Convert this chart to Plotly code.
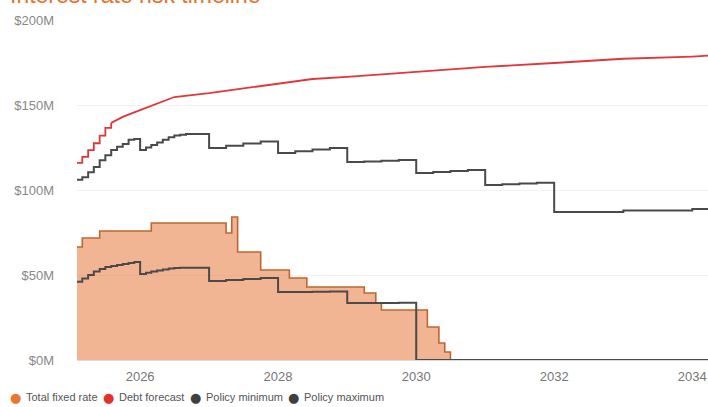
import plotly.graph_objects as go

# ---------------- data (values in $M) ----------------
fixed_dates = ["2025-02-01", "2025-03-01", "2025-06-01", "2026-03-01", "2027-04-01", "2027-05-01",
               "2027-06-01", "2027-10-01", "2028-03-01", "2028-06-01", "2029-04-01", "2029-06-01",
               "2029-07-01", "2030-03-01", "2030-05-01", "2030-06-01", "2030-07-01"]
fixed_vals = [66.5, 71.8, 75.9, 80.6, 74.7, 84.1, 63.5, 52.9, 48.2, 42.9, 39.4, 33.5,
              29.4, 19.4, 10.0, 4.7, 0.0]

debt_step_dates = ["2025-02-01", "2025-03-01", "2025-04-01", "2025-05-01", "2025-06-01",
                   "2025-07-01", "2025-08-01"]
debt_step_vals = [116.0, 119.5, 123.5, 127.5, 132.0, 136.5, 139.5]
debt_dates = ["2025-08-01", "2025-10-01", "2026-01-01", "2026-04-01", "2026-07-01", "2027-01-01",
              "2028-01-01", "2028-07-01", "2029-01-01", "2030-01-01", "2031-01-01", "2032-01-01",
              "2033-01-01", "2034-01-01", "2034-03-25"]
debt_vals = [139.5, 143.0, 147.0, 150.6, 154.7, 157.0, 162.4, 165.3, 166.5, 169.4, 172.4, 174.7,
             177.2, 178.5, 179.0]

policy_dates = ["2025-02-01", "2025-03-01", "2025-04-01", "2025-05-01", "2025-06-01", "2025-07-01",
                "2025-08-01", "2025-09-01", "2025-10-01", "2025-11-01", "2025-12-01",
                "2026-01-01", "2026-02-01", "2026-03-01", "2026-04-01", "2026-05-01", "2026-06-01",
                "2026-07-01", "2026-08-01", "2026-09-01", "2026-10-01", "2026-11-01", "2026-12-01",
                "2027-01-01", "2027-04-01", "2027-07-01", "2027-10-01",
                "2028-01-01", "2028-04-01", "2028-07-01", "2028-10-01",
                "2029-01-01", "2029-04-01", "2029-07-01", "2029-10-01",
                "2030-01-01", "2030-04-01", "2030-07-01", "2030-10-01",
                "2031-01-01", "2031-04-01", "2031-07-01", "2031-10-01",
                "2032-01-01", "2033-01-01", "2034-01-01", "2034-03-25"]
policy_max = [106.0, 107.5, 110.5, 113.5, 117.5, 120.5, 123.5, 125.5, 127.0, 129.5, 130.0,
              123.5, 125.0, 126.5, 128.0, 129.5, 131.0, 132.0, 132.5, 133.0, 133.0, 133.0, 133.0,
              124.7, 126.0, 127.3, 128.5,
              121.8, 122.8, 123.8, 124.7,
              116.5, 116.8, 117.2, 117.6,
              110.0, 110.6, 111.2, 111.8,
              103.0, 103.4, 103.8, 104.2,
              87.0, 88.0, 88.8, 89.0]
policy_min = [46.0, 48.0, 50.0, 52.0, 53.5, 54.7, 55.3, 55.9, 56.5, 57.0, 57.6,
              50.6, 51.3, 52.0, 52.7, 53.3, 53.8, 54.1, 54.2, 54.2, 54.2, 54.2, 54.2,
              46.5, 47.0, 47.6, 48.2,
              40.0, 40.0, 40.2, 40.3,
              33.5, 33.5, 33.6, 33.7,
              0.0, 0.0, 0.0, 0.0,
              0.0, 0.0, 0.0, 0.0,
              0.0, 0.0, 0.0, 0.0]

y_ticks = [0, 50, 100, 150, 200]
y_tick_text = ["$0M", "$50M", "$100M", "$150M", "$200M"]
x_ticks = ["2026-01-01", "2028-01-01", "2030-01-01", "2032-01-01", "2034-01-01"]
x_tick_text = ["2026", "2028", "2030", "2032", "2034"]

legend_names = ["Total fixed rate", "Debt forecast", "Policy minimum", "Policy maximum"]
legend_colors = ["#e8772e", "#e2302c", "#3f3f3f", "#3f3f3f"]

# ---------------- figure ----------------
FONT = "Liberation Sans, Arial, sans-serif"
fig = go.Figure()

fig.add_trace(go.Scatter(x=fixed_dates, y=fixed_vals, mode="lines", line_shape="hv",
                         fill="tozeroy", fillcolor="rgba(232,120,60,0.55)",
                         line=dict(color="#c0652f", width=1.6), name=legend_names[0],
                         showlegend=False))
fig.add_trace(go.Scatter(x=policy_dates, y=policy_min, mode="lines", line_shape="hv",
                         line=dict(color="#4a4a4a", width=2), name=legend_names[2],
                         showlegend=False))
fig.add_trace(go.Scatter(x=policy_dates, y=policy_max, mode="lines", line_shape="hv",
                         line=dict(color="#4a4a4a", width=2), name=legend_names[3],
                         showlegend=False))
fig.add_trace(go.Scatter(x=debt_step_dates, y=debt_step_vals, mode="lines", line_shape="hv",
                         line=dict(color="#e2363a", width=1.8), name=legend_names[1],
                         showlegend=False))
fig.add_trace(go.Scatter(x=debt_dates, y=debt_vals, mode="lines", line_shape="linear",
                         line=dict(color="#e2363a", width=1.8), name=legend_names[1],
                         showlegend=False))

# legend as text annotations
legend_circle_x = [15, 108, 195, 293]
plot_left, plot_w = 77, 631
plot_top, plot_h = 20, 340
annos = []
for name, col, cx in zip(legend_names, legend_colors, legend_circle_x):
    annos.append(dict(text="●", x=(cx - plot_left) / plot_w, y=(360 - 397) / plot_h,
                      xref="paper", yref="paper", xanchor="center", yanchor="middle",
                      showarrow=False, font=dict(size=13, color=col, family="DejaVu Sans")))
    annos.append(dict(text=name, x=(cx + 9 - plot_left) / plot_w, y=(360 - 397) / plot_h,
                      xref="paper", yref="paper", xanchor="left", yanchor="middle",
                      showarrow=False, font=dict(size=11, color="#555555", family=FONT)))

fig.update_layout(
    width=708, height=407,
    margin=dict(l=77, r=0, t=20, b=47),
    paper_bgcolor="white", plot_bgcolor="white",
    font=dict(family=FONT, color="#777777"),
    title=dict(text="Interest rate risk timeline", x=10 / 708, xanchor="left",
               y=1 - 3 / 407, yanchor="bottom", yref="container",
               font=dict(size=23, color="#e8722a", family=FONT)),
    showlegend=False,
    annotations=annos,
)
fig.update_xaxes(type="date", range=["2025-02-01", "2034-03-25"],
                 tickvals=x_ticks, ticktext=x_tick_text, showgrid=False,
                 showline=True, linecolor="#d9d9d9", linewidth=1, ticks="",
                 tickfont=dict(size=13, color="#777777"), ticklabelstandoff=4)
fig.update_yaxes(range=[0, 200], tickvals=y_ticks, ticktext=y_tick_text,
                 showgrid=True, gridcolor="#f2f2f2", gridwidth=1, zeroline=False,
                 tickfont=dict(size=13, color="#888888"), ticklabelstandoff=22)

fig.write_html("out.html")
